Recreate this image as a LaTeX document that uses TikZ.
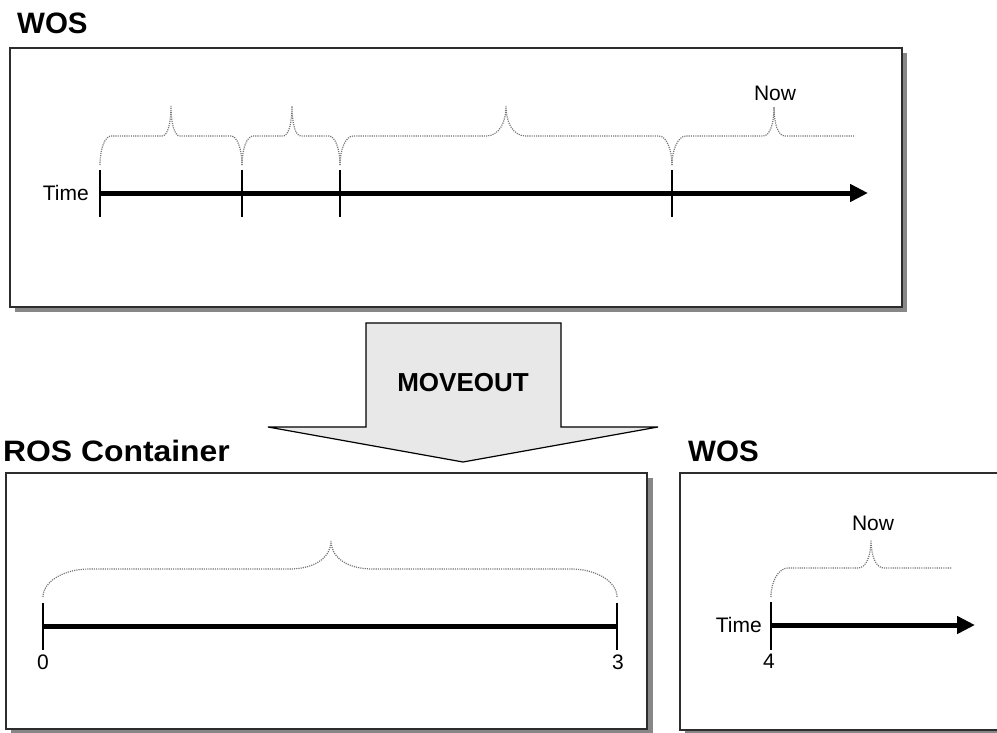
\documentclass[tikz,border=0pt]{standalone}
\usepackage{fontspec}
\setmainfont{Liberation Sans}
\usetikzlibrary{arrows.meta}
\definecolor{boxline}{RGB}{45,45,45}
\definecolor{shadowgray}{RGB}{135,135,135}
\definecolor{bracegray}{RGB}{115,115,115}
\definecolor{arrowfill}{RGB}{232,232,232}
\tikzset{
  boxstyle/.style={draw=boxline, line width=1.6pt, fill=white},
  shadowstyle/.style={fill=shadowgray, draw=none},
  axisarrow/.style={line width=5pt, line cap=butt, -{Triangle[length=18pt,width=17pt]}},
  axisplain/.style={line width=5pt, line cap=butt},
  tickstyle/.style={line width=1.5pt},
  bracestyle/.style={draw=bracegray, line width=1.2pt, dash pattern=on 1.1pt off 1.1pt},
  titletext/.style={font=\fontsize{29.5}{34}\selectfont\bfseries, anchor=base west, inner sep=0pt},
  smalltext/.style={font=\fontsize{21}{25}\selectfont, inner sep=0pt},
  movetext/.style={font=\fontsize{26}{30}\selectfont\bfseries, inner sep=0pt},
  movearrow/.style={draw=black, line width=1.2pt, fill=arrowfill, line join=miter},
}
% closed brace: x1, x2, xm, yb, yf, yp, r, w
\newcommand{\closedbrace}[8]{%
  \draw[bracestyle] (#1,#4) .. controls (#1,{#5+0.45*(#4-#5)}) and ({#1+0.45*#7},#5) .. ({#1+#7},#5)
    -- ({#3-#8},#5) .. controls ({#3-0.35*#8},#5) and (#3,{#5-0.45*(#5-#6)}) .. (#3,#6)
    .. controls (#3,{#5-0.45*(#5-#6)}) and ({#3+0.35*#8},#5) .. ({#3+#8},#5)
    -- ({#2-#7},#5) .. controls ({#2-0.45*#7},#5) and (#2,{#5+0.45*(#4-#5)}) .. (#2,#4);}
% open brace: x1, xend, xm, yb, yf, yp, r, w
\newcommand{\openbrace}[8]{%
  \draw[bracestyle] (#1,#4) .. controls (#1,{#5+0.45*(#4-#5)}) and ({#1+0.45*#7},#5) .. ({#1+#7},#5)
    -- ({#3-#8},#5) .. controls ({#3-0.35*#8},#5) and (#3,{#5-0.45*(#5-#6)}) .. (#3,#6)
    .. controls (#3,{#5-0.45*(#5-#6)}) and ({#3+0.35*#8},#5) .. ({#3+#8},#5)
    -- (#2,#5);}
\begin{document}
\begin{tikzpicture}[x=1pt,y=-1pt]
\useasboundingbox (0,0) rectangle (997,732);

% ---------- top WOS ----------
\node[titletext] (wosA) at (17,33) {WOS};
\fill[shadowstyle] (15,53) rectangle (907,312);
\draw[boxstyle] (10,48) rectangle (902,307);

\coordinate (ta0) at (100,193);
\coordinate (taEnd) at (868,193);
\draw[axisarrow] (ta0) -- (taEnd);
\foreach \x in {100,242,340,672} \draw[tickstyle] (\x,170) -- (\x,217);
\node[smalltext, anchor=east] (timeA) at (89,193) {Time};

\closedbrace{100}{242}{171}{165}{136}{106}{11}{9}
\closedbrace{242}{340}{292}{165}{136}{106}{11}{9}
\closedbrace{340}{672}{506}{165}{136}{106}{13}{20}
\openbrace{672}{855}{774}{165}{136}{107}{14}{11}
\node[smalltext] (nowA) at (775,93) {Now};

% ---------- MOVEOUT arrow ----------
\draw[movearrow] (366,323) -- (561,323) -- (561,427) -- (658,427) -- (463,462)
  -- (268,427) -- (366,427) -- cycle;
\node[movetext] (move) at (463,383) {MOVEOUT};

% ---------- ROS container ----------
\node[titletext] (ros) at (3,461) {\scalebox{1.08}[1]{ROS Container}};
\fill[shadowstyle] (11,478) rectangle (653,736);
\draw[boxstyle] (6,473) rectangle (647,729);
\coordinate (tb0) at (43,626);
\coordinate (tb3) at (617,626);
\draw[axisplain] (tb0) -- (tb3);
\draw[tickstyle] (43,603) -- (43,650);
\draw[tickstyle] (617,603) -- (617,650);
\closedbrace{43}{617}{331}{597}{569}{541}{46}{42}
\node[smalltext] (zero) at (43,662) {0};
\node[smalltext] (three) at (618,662) {3};

% ---------- bottom WOS ----------
\node[titletext] (wosB) at (688,461) {WOS};
\fill[shadowstyle] (685,478) rectangle (1015,736);
\draw[boxstyle] (680,473) rectangle (1010,730);
\coordinate (tc0) at (771,625);
\coordinate (tcEnd) at (975,625);
\draw[axisarrow] (tc0) -- (tcEnd);
\draw[tickstyle] (771,602) -- (771,650);
\node[smalltext, anchor=east] (timeB) at (762,625) {Time};
\node[smalltext] (four) at (769,661) {4};
\openbrace{771}{952}{871}{597}{568}{540}{17}{13}
\node[smalltext] (nowB) at (873,523) {Now};
\end{tikzpicture}
\end{document}
